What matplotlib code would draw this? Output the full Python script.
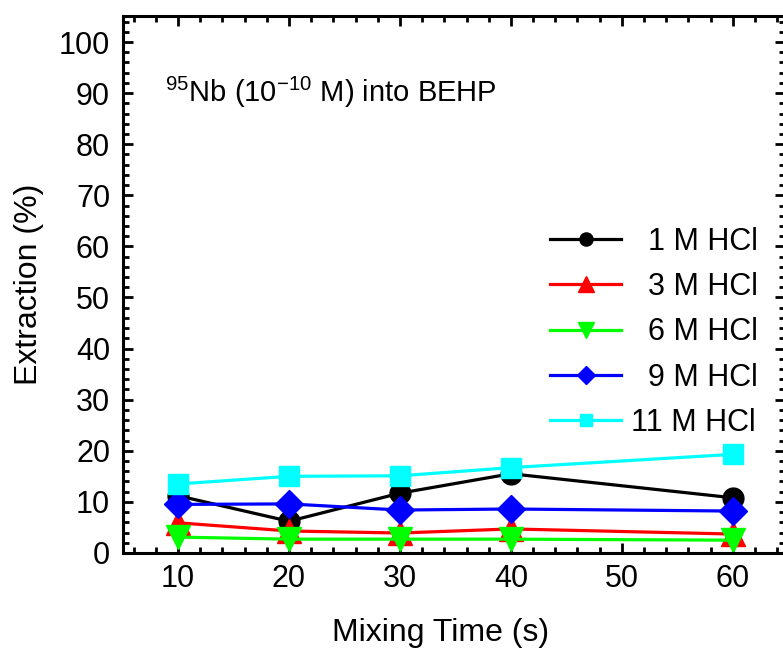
import numpy as np
import matplotlib.pyplot as plt
from matplotlib.ticker import MultipleLocator

plt.rcParams['font.family'] = ['Liberation Sans', 'DejaVu Sans']
plt.rcParams['mathtext.fontset'] = 'custom'
plt.rcParams['mathtext.rm'] = 'Liberation Sans'
plt.rcParams['mathtext.it'] = 'Liberation Sans:italic'

# mixing time (s) and extraction (%) for each HCl concentration
mix_time = [10, 20, 30, 40, 60]
hcl_1 = [11.2, 6.2, 11.7, 15.5, 10.8]
hcl_3 = [5.9, 4.3, 3.9, 4.7, 3.7]
hcl_6 = [3.1, 2.7, 2.7, 2.7, 2.5]
hcl_9 = [9.5, 9.6, 8.4, 8.6, 8.2]
hcl_11 = [13.5, 15.0, 15.1, 16.7, 19.3]
labels = ['  1 M HCl', '  3 M HCl', '  6 M HCl', '  9 M HCl', '11 M HCl']

fig = plt.figure(figsize=(7.83, 6.49), dpi=100)
ax = fig.add_axes([0.1565, 0.148, 0.8460, 0.8266])

series = [hcl_1, hcl_3, hcl_6, hcl_9, hcl_11]
colors = ['black', 'red', '#00ff00', 'blue', 'cyan']
markers = ['o', '^', 'v', 'D', 's']
sizes = [15, 17.5, 17.5, 14, 14.5]
for ys, c, m, ms, lab in zip(series, colors, markers, sizes, labels):
    ax.plot(mix_time, ys, color=c, marker=m, markersize=ms, mec=c,
            linewidth=2.3, label=lab)

ax.set_xlim(5, 64.7)
ax.set_ylim(0, 105)
ax.xaxis.set_major_locator(MultipleLocator(10))
ax.xaxis.set_minor_locator(MultipleLocator(2))
ax.yaxis.set_major_locator(MultipleLocator(10))
ax.yaxis.set_minor_locator(MultipleLocator(2))
ax.set_xticks([10, 20, 30, 40, 50, 60])

for s in ax.spines.values():
    s.set_linewidth(2.2)
ax.tick_params(which='both', direction='in', top=True, right=True, width=2, labelsize=22)
ax.tick_params(which='major', length=7, pad=8)
ax.tick_params(which='minor', length=4)
ax.tick_params(axis='y', which='major', pad=9)

ax.set_xlabel('Mixing Time (s)', fontsize=23)
ax.xaxis.set_label_coords(0.48, -0.122)
ax.set_ylabel('Extraction (%)', fontsize=23, labelpad=11)

ax.text(8.8, 88.3, r'$^{95}$Nb (10$^{-10}$ M) into BEHP', fontsize=21, va='baseline')

leg = ax.legend(loc='upper left', bbox_to_anchor=(0.646, 0.608), frameon=False,
                fontsize=22, markerscale=0.63, handlelength=2.3, handletextpad=0.35,
                labelspacing=0.5, borderpad=0, borderaxespad=0)

fig.savefig('out.png', dpi=100)
